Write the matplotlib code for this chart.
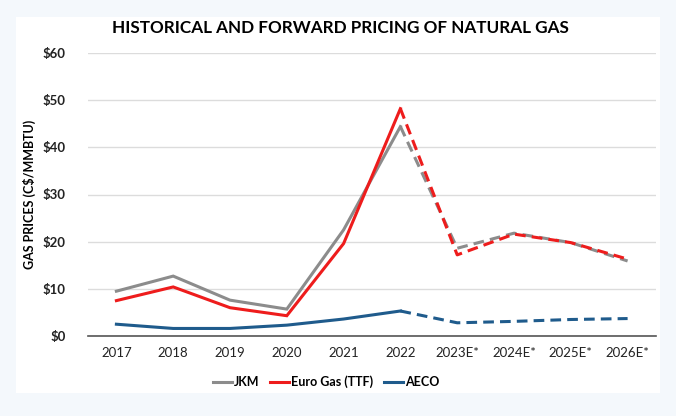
import matplotlib.pyplot as plt
from matplotlib.patches import Rectangle
from matplotlib.lines import Line2D

years = ["2017", "2018", "2019", "2020", "2021", "2022",
         "2023E*", "2024E*", "2025E*", "2026E*"]
jkm = [9.5, 12.7, 7.6, 5.7, 22.5, 44.4, 18.6, 21.8, 19.8, 15.9]
ttf = [7.5, 10.4, 6.0, 4.3, 19.6, 48.2, 17.2, 21.6, 19.8, 16.3]
aeco = [2.5, 1.6, 1.6, 2.3, 3.6, 5.3, 2.8, 3.1, 3.5, 3.7]
hist_end = 5  # index of 2022, last actual year

plt.rcParams['font.family'] = ['Lato', 'DejaVu Sans']

fig = plt.figure(figsize=(6.76, 4.16), dpi=100)
fig.patch.set_facecolor('#f4f8fc')
# white card behind the chart
fig.patches.append(Rectangle((16 / 676, 1 - 393 / 416), 644 / 676, 376 / 416,
                             transform=fig.transFigure, facecolor='white',
                             edgecolor='none', zorder=-10))

ax = fig.add_axes([88 / 676, 1 - 336 / 416, 568 / 676, 283 / 416])
ax.set_facecolor('none')
ax.set_zorder(1)

x = list(range(len(years)))
series = [(jkm, '#8c8c8c', 'JKM'), (ttf, '#ee1c1c', 'Euro Gas (TTF)'),
          (aeco, '#1f5b8c', 'AECO')]
for vals, col, name in series:
    ax.plot(x[:hist_end + 1], vals[:hist_end + 1], color=col, lw=2.2,
            solid_joinstyle='miter', zorder=3)
    ax.plot(x[hist_end:], vals[hist_end:], color=col, lw=2.2,
            dashes=(3.5, 2), zorder=3)

ax.set_xlim(-0.5, len(years) - 0.5)
ax.set_ylim(0, 60)
ax.set_yticks(range(0, 61, 10))
ax.set_yticklabels([f"${v}" for v in range(0, 61, 10)], fontweight='bold')
ax.set_xticks(x)
ax.set_xticklabels(years)
ax.tick_params(length=0, labelsize=9.5, colors='#222222')
ax.tick_params(axis='y', pad=16)
ax.tick_params(axis='x', pad=8)
ax.grid(axis='y', color='#dcdcdc', lw=1)
ax.set_axisbelow(True)
for s in ['top', 'right', 'left']:
    ax.spines[s].set_visible(False)
ax.spines['bottom'].set_color('#555555')
ax.spines['bottom'].set_linewidth(1.2)

ax.set_ylabel("GAS PRICES (C$/MMBTU)", fontweight='bold', fontsize=9,
              labelpad=5)

fig.text(340 / 676, 1 - 28 / 416, "HISTORICAL AND FORWARD PRICING OF NATURAL GAS",
         ha='center', va='center', fontsize=12.3, fontweight='bold')

handles = [Line2D([], [], color=c, lw=2.2) for _, c, _ in series]
fig.legend(handles, [n for _, _, n in series], loc='center',
           bbox_to_anchor=(326 / 676, 1 - 382 / 416), ncol=3, frameon=False,
           prop={'weight': 'bold', 'size': 9}, handlelength=1.5,
           handletextpad=0.15, columnspacing=0.9)

fig.savefig('out.png', dpi=100, facecolor=fig.get_facecolor())
